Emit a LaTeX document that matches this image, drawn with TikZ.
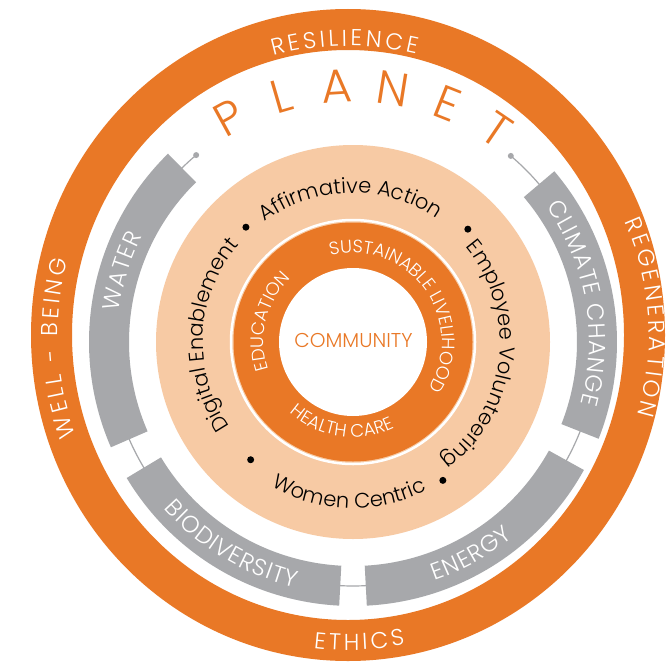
\documentclass[tikz,border=0pt]{standalone}
\usepackage{fontspec}
\setmainfont{Poppins}[UprightFont=* Light]
\usetikzlibrary{decorations.text}

\definecolor{ringorange}{HTML}{E97826}
\definecolor{ringpeach}{HTML}{F7CAA4}
\definecolor{bandgray}{HTML}{A7A8AB}

% tracked capitals for the rings (kern before every letter)
\newcommand\ringfont{\fontsize{23}{23}\selectfont\kern3.3pt}
\newcommand\bandfont{\fontsize{23.5}{23.5}\selectfont\kern1pt}
\newcommand\actionfont{\fontsize{21}{21}\selectfont}
\newcommand\corefont{\fontsize{18}{18}\selectfont}

\begin{document}
\begin{tikzpicture}[
  x=1pt, y=1pt,
  band/.style={fill=bandgray},
  link/.style={draw=bandgray, line width=1.2pt},
  linkdot/.style={circle, fill=bandgray, inner sep=0pt, minimum size=6pt},
  bullet/.style={circle, fill=black, inner sep=0pt, minimum size=7pt},
  planet/.style={text=ringorange, font=\fontsize{47}{47}\selectfont, inner sep=0pt},
  arctext/.style={decorate, decoration={text along path, text align=center, text color=#1}}
]
\fill[white] (0,0) rectangle (666,-661);
\clip (0,0) rectangle (666,-661);

% outer ring of values
\begin{scope}[shift={(348,-335)}]
  \fill[ringorange, even odd rule] (0,0) ellipse[x radius=317, y radius=326]
                                   (0,0) ellipse[x radius=276, y radius=285];
  \path[arctext=white, decoration={text={|\ringfont|RESILIENCE}}]
    (181:289 and 289) arc[start angle=181, end angle=1, x radius=289, y radius=289];
  \path[arctext=white, decoration={text={|\ringfont|REGENERATION}}]
    (93.7:301 and 289) arc[start angle=93.7, end angle=-86.3, x radius=301, y radius=289];
  \path[arctext=white, decoration={text={|\ringfont|WELL - BEING}}]
    (272.9:290 and 289) arc[start angle=272.9, end angle=92.9, x radius=290, y radius=289];
  \path[arctext=white, decoration={text={|\ringfont|ETHICS}}]
    (181.8:306 and 315) arc[start angle=181.8, end angle=361.8, x radius=306, y radius=315];
\end{scope}

% planet, people and community
\begin{scope}[shift={(353,-342)}]
  \fill[ringpeach] (0,0) circle[radius=197];

  % thin link behind the grey bands
  \node[linkdot] (dotclimate) at (49.7:244) {};
  \node[linkdot] (dotwater)   at (130:244) {};
  \draw[link] (dotclimate.center) arc[start angle=49.7, end angle=-230, radius=244];

  \foreach \from/\to in {134.5/203.5, 211/267, 273/331, -21.5/40.3}
    \fill[band] (\from:264) arc[start angle=\from, end angle=\to, radius=264]
      -- (\to:224) arc[start angle=\to, end angle=\from, radius=224] -- cycle;

  \path[arctext=white, decoration={text={|\bandfont|WATER}}]
    (253:236) arc[start angle=253, end angle=73, radius=236];
  \path[arctext=white, decoration={text={|\bandfont|CLIMATE CHANGE}}]
    (100:236) arc[start angle=100, end angle=-80, radius=236];
  \path[arctext=white, decoration={text={|\bandfont|BIODIVERSITY}}]
    (149:252) arc[start angle=149, end angle=329, radius=252];
  \path[arctext=white, decoration={text={|\bandfont|ENERGY}}]
    (209:252) arc[start angle=209, end angle=389, radius=252];

  \foreach \ch [count=\i] in {P,L,A,N,E,T}
    \node[planet, rotate={28.8-12.6*(\i-1)}] (planet\i) at ({118.8-12.6*(\i-1)}:256) {\ch};

  % people
  \path[arctext=black, decoration={text={|\actionfont|Affirmative Action}}]
    (181:149) arc[start angle=181, end angle=1, radius=149];
  \path[arctext=black, decoration={text={|\actionfont|Digital Enablement}}]
    (267:150) arc[start angle=267, end angle=87, radius=150];
  \path[arctext=black, decoration={text={|\actionfont|Employee Volunteering}}]
    (83.5:147) arc[start angle=83.5, end angle=-96.5, radius=147];
  \path[arctext=black, decoration={text={|\actionfont|Women Centric}}]
    (178.5:166) arc[start angle=178.5, end angle=358.5, radius=166];
  \node[bullet] (b1) at (133:157) {};
  \node[bullet] (b2) at (44.5:161) {};
  \node[bullet] (b3) at (229:156) {};
  \node[bullet] (b4) at (303:165) {};

  % community core
  \draw[white, line width=2.5pt] (0,0) circle[radius=122];
  \fill[ringorange] (0,0) circle[radius=119.5];
  \fill[white] (0,0) circle[radius=74];
  \path[arctext=white, decoration={text={|\corefont|SUSTAINABLE LIVELIHOOD}}]
    (136.5:89) arc[start angle=136.5, end angle=-63.5, radius=89];
  \path[arctext=white, decoration={text={|\corefont|EDUCATION}}]
    (256:89) arc[start angle=256, end angle=76, radius=89];
  \path[arctext=white, decoration={text={|\corefont|HEALTH CARE}}]
    (172:95) arc[start angle=172, end angle=352, radius=95];
  \node[text=ringorange, font=\fontsize{20}{20}\selectfont] (community) at (0.5,1.5) {COMMUNITY};
\end{scope}
\end{tikzpicture}
\end{document}
